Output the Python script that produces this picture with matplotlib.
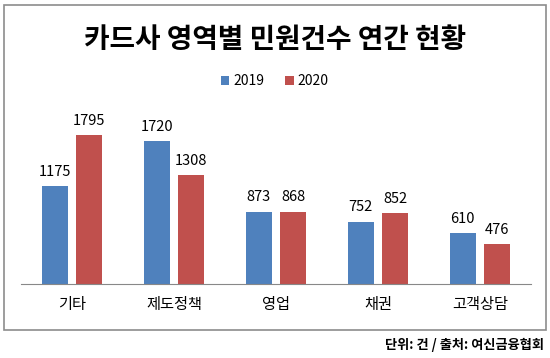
import matplotlib
matplotlib.use('Agg')
import matplotlib.pyplot as plt
import numpy as np
from matplotlib.patches import Rectangle

plt.rcParams['font.family'] = ['Noto Sans CJK KR', 'DejaVu Sans']

categories = ['기타', '제도정책', '영업', '채권', '고객상담']
years = ['2019', '2020']
values_2019 = [1175, 1720, 873, 752, 610]
values_2020 = [1795, 1308, 868, 852, 476]
colors = ['#4F81BD', '#C0504D']

W, H = 550, 358
fig = plt.figure(figsize=(W / 100, H / 100), dpi=100)

# chart border
fig.patches.append(Rectangle((4 / W, 1 - 330 / H), 542 / W, 325 / H,
                             transform=fig.transFigure, fill=False,
                             edgecolor='#8c8c8c', linewidth=1.2))

ax = fig.add_axes([21 / W, 1 - 284 / H, 510 / W, 174 / H])

x = np.arange(len(categories))
width = 0.255
offset = 0.17
for vals, off, col, lab in zip([values_2019, values_2020], [-offset, offset], colors, years):
    bars = ax.bar(x + off, vals, width, color=col, label=lab)
    for b, v in zip(bars, vals):
        ax.text(b.get_x() + b.get_width() / 2, v + 90, str(v),
                ha='center', va='bottom', fontsize=10.5)

ax.set_xlim(-0.5, len(categories) - 0.5)
ax.set_ylim(0, 2096)
ax.set_yticks([])
ax.set_xticks(x)
ax.set_xticklabels(categories, fontsize=11)
ax.tick_params(axis='x', length=0, pad=9)
for s in ['top', 'right', 'left']:
    ax.spines[s].set_visible(False)
ax.spines['bottom'].set_color('#888888')

fig.text(0.5, 1 - 40 / H, '카드사 영역별 민원건수 연간 현황', ha='center', va='center',
         fontsize=20, fontweight='bold')

fig.legend(loc='center', bbox_to_anchor=(0.5, 1 - 81 / H), ncol=2, frameon=False,
           fontsize=10, handlelength=0.6, handleheight=0.6, handletextpad=0.3,
           columnspacing=1.5)

fig.text(544 / W, 1 - 345 / H, '단위: 건 / 출처: 여신금융협회', ha='right', va='center',
         fontsize=9.5, fontweight='bold')

plt.savefig('out.png', dpi=100)
